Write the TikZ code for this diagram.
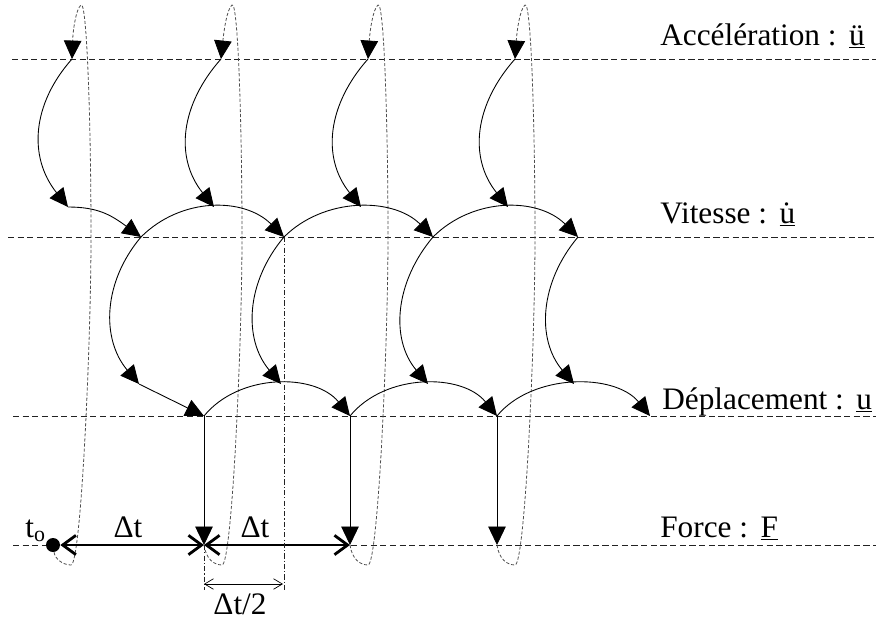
\documentclass[tikz,border=0pt]{standalone}
\usepackage{fontspec}
\setmainfont{Liberation Serif}
\usepackage{tikz}
\usetikzlibrary{arrows.meta,calc}
\definecolor{INK}{HTML}{000000}
\definecolor{GUIDE}{HTML}{222222}
\definecolor{LOOP}{HTML}{4D4D4D}

\begin{document}
\begin{tikzpicture}[x=0.02cm,y=-0.02cm]
\tikzset{gridl/.style={GUIDE,line width=0.5pt,dash pattern=on 3.5pt off 2pt},
 curv/.style={INK,line width=0.5pt,-{Triangle[length=10.5pt,width=10pt]}},
 loopl/.style={LOOP,line width=0.45pt,dash pattern=on 1.8pt off 1.1pt,-{Triangle[length=10.5pt,width=10pt,color=INK]}},
 dimx/.style={INK,line width=1.6pt,{Straight Barb[length=7.5pt,width=11pt]}-{Straight Barb[length=7.5pt,width=11pt]}},
 dimt/.style={INK,line width=0.4pt,{Straight Barb[length=5pt,width=6pt]}-{Straight Barb[length=5pt,width=6pt]}},
 axl/.style={GUIDE,line width=0.5pt,dash pattern=on 3pt off 1.2pt on 0.6pt off 1.2pt},
 lab/.style={font=\fontsize{17.8}{20}\selectfont,inner sep=0pt}}
\useasboundingbox (0,0) rectangle (876,619);
% levels
\draw[gridl] (12,59) -- (876,59);
\draw[gridl] (8,237) -- (876,237);
\draw[gridl] (13,416) -- (876,416);
\draw[gridl] (13,545) -- (876,545);
\node[lab,anchor=base west] (lacc) at (660,45) {Accélération :\hspace{0.4em}\underline{ü}};
\node[lab,anchor=base west] (lvit) at (660,223) {Vitesse :\hspace{0.4em}\underline{\.{u}}};
\node[lab,anchor=base west] (ldep) at (662,409) {Déplacement :\hspace{0.4em}\underline{u}};
\node[lab,anchor=base west] (lfor) at (660,537) {Force :\hspace{0.4em}\underline{F}};
% points
\coordinate (a1) at (72,59);\coordinate (a2) at (221,59);\coordinate (a3) at (368,59);\coordinate (a4) at (515,59);
\coordinate (p1) at (68,207);\coordinate (p2) at (214,207);\coordinate (p3) at (361,207);\coordinate (p4) at (508,207);
\coordinate (v1) at (141,237);\coordinate (v2) at (284,237);\coordinate (v3) at (433,237);\coordinate (v4) at (578,237);
\coordinate (q1) at (139,384);\coordinate (q2) at (281,384);\coordinate (q3) at (428,384);\coordinate (q4) at (574,384);
\coordinate (d1) at (204,416);\coordinate (d2) at (350,416);\coordinate (d3) at (497,416);\coordinate (d4) at (650,416);
\node[circle,fill=INK,inner sep=0pt,minimum size=2.8mm] (f0) at (53,545) {};
\coordinate (f1) at (204,545);\coordinate (f2) at (350,545);\coordinate (f3) at (497,545);
\coordinate (h1) at (204,590);\coordinate (k1) at (204,584);\coordinate (k2) at (283,584);
% feedback loops
\foreach \i/\j in {0/1,1/2,2/3,3/4}
 \draw[loopl] (f\i) .. controls ($(f\i)+(2,14)$) and ($(f\i)+(10,20)$) .. ($(f\i)+(18,20)$)
  .. controls ($(f\i)+(28,20)$) and ($(f\i)+(38,-200)$) .. ($(f\i)+(38,-308)$)
  .. controls ($(f\i)+(38,-420)$) and ($(f\i)+(34,-545)$) .. ($(f\i)+(28,-540)$)
  .. controls ($(f\i)+(23,-536)$) and ($(f\i)+(20,-515)$) .. (a\j);
% acceleration -> vitesse
\foreach \i in {1,...,4}
 \draw[curv] (a\i) .. controls +(-40,45) and +(-40,-50) .. (p\i);
\draw[curv] (p1) .. controls +(30,0) and +(-30,-22) .. (v1);
\draw[curv] (v1) .. controls +(40,-40) and +(-40,-40) .. (v2);
\draw[curv] (v2) .. controls +(40,-40) and +(-40,-40) .. (v3);
\draw[curv] (v3) .. controls +(40,-40) and +(-40,-40) .. (v4);
% vitesse -> deplacement
\foreach \i in {1,...,4}
 \draw[curv] (v\i) .. controls +(-38,45) and +(-38,-45) .. (q\i);
\draw[curv] (q1) -- (d1);
\draw[curv] (d1) .. controls +(35,-43) and +(-35,-43) .. (d2);
\draw[curv] (d2) .. controls +(35,-43) and +(-35,-43) .. (d3);
\draw[curv] (d3) .. controls +(35,-43) and +(-35,-43) .. (d4);
% deplacement -> force
\foreach \i in {1,2,3}
 \draw[curv] (d\i) -- (f\i);
% time steps
\draw[dimx] (f0) -- (f1);
\draw[dimx] (f1) -- (f2);
\draw[axl] (f1) -- (h1);
\draw[axl] (v2) -- (v2 |- h1);
\draw[dimt] (k1) -- (k2);
\node[lab,anchor=base west] (t0) at (25,537) {t\textsubscript{o}};
\node[lab,anchor=base] (dt1) at (128,537) {Δt};
\node[lab,anchor=base] (dt2) at (255,537) {Δt};
\node[lab,anchor=base] (dt3) at (240,614) {Δt/2};
\end{tikzpicture}
\end{document}
